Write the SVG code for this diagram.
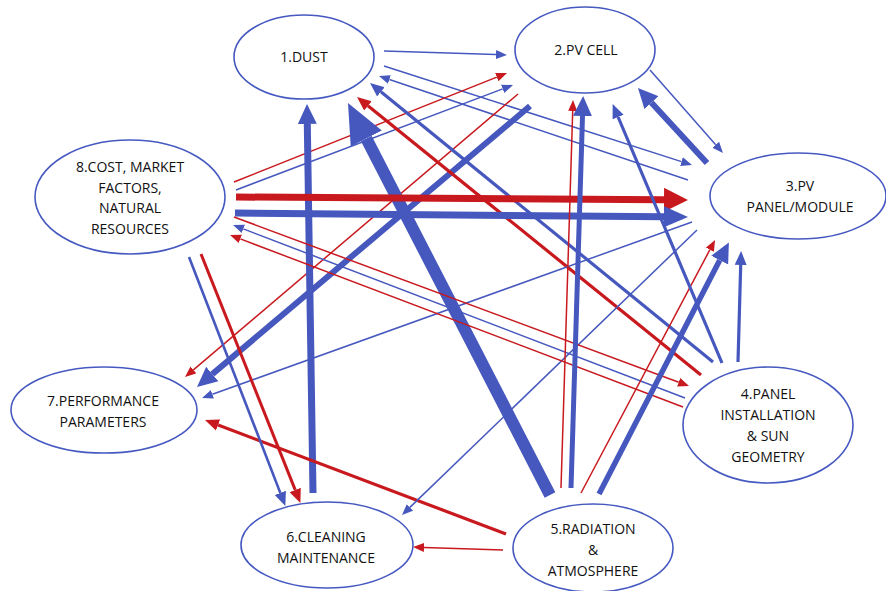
<svg xmlns="http://www.w3.org/2000/svg" width="886" height="591" viewBox="0 0 886 591">
<style>
.node ellipse{fill:#fff;stroke:#4659C0;stroke-width:1.6}
.node text{font-family:"Open Sans","Liberation Sans",sans-serif;font-size:14px;fill:#111;text-anchor:middle}
.b{stroke:#4658BE;fill:none}
.r{stroke:#C8191E;fill:none}
.t{stroke-width:1.5}
.m{stroke-width:3.2}
.k{stroke-width:6}
</style>
<defs>
<marker id="bs" markerUnits="userSpaceOnUse" viewBox="0 -5 11 10" markerWidth="11" markerHeight="10" refX="0" refY="0" orient="auto"><path d="M0,-4.5L11,0L0,4.5z" fill="#4658BE"/></marker>
<marker id="rs" markerUnits="userSpaceOnUse" viewBox="0 -5 11 10" markerWidth="11" markerHeight="10" refX="0" refY="0" orient="auto"><path d="M0,-4.5L11,0L0,4.5z" fill="#C8191E"/></marker>
<marker id="bm" markerUnits="userSpaceOnUse" viewBox="0 -7 14 14" markerWidth="14" markerHeight="14" refX="0" refY="0" orient="auto"><path d="M0,-6L14,0L0,6z" fill="#4658BE"/></marker>
<marker id="rm" markerUnits="userSpaceOnUse" viewBox="0 -7 14 14" markerWidth="14" markerHeight="14" refX="0" refY="0" orient="auto"><path d="M0,-6L14,0L0,6z" fill="#C8191E"/></marker>
<marker id="bk" markerUnits="userSpaceOnUse" viewBox="0 -10 20 20" markerWidth="20" markerHeight="20" refX="0" refY="0" orient="auto"><path d="M0,-9.5L20,0L0,9.5z" fill="#4658BE"/></marker>
<marker id="bL" markerUnits="userSpaceOnUse" viewBox="0 -12 24 24" markerWidth="24" markerHeight="24" refX="0" refY="0" orient="auto"><path d="M0,-10.5L24,0L0,10.5z" fill="#4658BE"/></marker>
<marker id="rL" markerUnits="userSpaceOnUse" viewBox="0 -12 24 24" markerWidth="24" markerHeight="24" refX="0" refY="0" orient="auto"><path d="M0,-12L24,0L0,12z" fill="#C8191E"/></marker>
<marker id="bX" markerUnits="userSpaceOnUse" viewBox="0 -18 40 36" markerWidth="40" markerHeight="36" refX="0" refY="0" orient="auto"><path d="M0,-17.5L40,0L0,17.5z" fill="#4658BE"/></marker>
</defs>
<g id="connectors">
<line class="b t" x1="384" y1="51" x2="496" y2="54.6" marker-end="url(#bs)"/>
<line class="b t" x1="384" y1="66" x2="681.5" y2="161.6" marker-end="url(#bs)"/>
<line class="b t" x1="688" y1="180" x2="389.4" y2="79.5" marker-end="url(#bs)"/>
<line class="r t" x1="234" y1="182" x2="496.8" y2="77.1" marker-end="url(#rs)"/>
<line class="b t" x1="236" y1="190" x2="502.7" y2="88.9" marker-end="url(#bs)"/>
<line class="r t" x1="518" y1="94" x2="193.4" y2="369.9" marker-end="url(#rs)"/>
<line class="b k" x1="530" y1="106" x2="212.3" y2="374.1" marker-end="url(#bk)"/>
<line class="r m" x1="701" y1="375" x2="367.9" y2="105.8" marker-end="url(#rm)"/>
<line class="b m" x1="713" y1="362" x2="380.9" y2="91.8" marker-end="url(#bm)"/>
<line class="b" stroke-width="12" x1="550" y1="495" x2="366.3" y2="138.6" marker-end="url(#bX)"/>
<line class="b" stroke-width="7" x1="313" y1="493" x2="307.3" y2="124" marker-end="url(#bk)"/>
<line class="r m" x1="506" y1="534" x2="218.1" y2="425" marker-end="url(#rm)"/>
<line class="r t" x1="503" y1="550" x2="424" y2="547.4" marker-end="url(#rs)"/>
<line class="b t" x1="697" y1="230" x2="409.9" y2="507.4" marker-end="url(#bs)"/>
<line class="b t" x1="692" y1="222" x2="212.4" y2="394.3" marker-end="url(#bs)"/>
<line class="b" stroke-width="2.6" x1="189" y1="257" x2="280.3" y2="492.9" marker-end="url(#bm)"/>
<line class="r" stroke-width="3" x1="201" y1="254" x2="295.2" y2="489.9" marker-end="url(#rm)"/>
<line class="r" stroke-width="7" x1="236" y1="197" x2="664" y2="199.8" marker-end="url(#rL)"/>
<line class="b" stroke-width="7" x1="235" y1="213" x2="664" y2="216.8" marker-end="url(#bL)"/>
<line class="r t" x1="234" y1="217" x2="678.7" y2="382.2" marker-end="url(#rs)"/>
<line class="b t" x1="685" y1="398" x2="243.3" y2="228.9" marker-end="url(#bs)"/>
<line class="r t" x1="683" y1="407" x2="240.3" y2="238.9" marker-end="url(#rs)"/>
<line class="r t" x1="561" y1="488" x2="572.7" y2="111" marker-end="url(#rs)"/>
<line class="b" stroke-width="5" x1="571" y1="488" x2="582.5" y2="116" marker-end="url(#bk)"/>
<line class="r t" x1="581" y1="493" x2="709.9" y2="249.7" marker-end="url(#rs)"/>
<line class="b" stroke-width="5.5" x1="599" y1="494" x2="719.7" y2="260.2" marker-end="url(#bk)"/>
<line class="b m" x1="738" y1="362" x2="740.7" y2="265" marker-end="url(#bm)"/>
<line class="b m" x1="722" y1="363" x2="618.1" y2="117" marker-end="url(#bm)"/>
<line class="b k" x1="707" y1="163" x2="651.5" y2="102.7" marker-end="url(#bk)"/>
<line class="b t" x1="650" y1="70" x2="715.7" y2="144.7" marker-end="url(#bs)"/>
</g>
<g id="n1" class="node"><ellipse cx="304" cy="57" rx="70" ry="42"/><text x="304" y="62">1.DUST</text></g>
<g id="n2" class="node"><ellipse cx="585" cy="50" rx="70" ry="43"/><text x="586" y="55">2.PV CELL</text></g>
<g id="n3" class="node"><ellipse cx="798" cy="196" rx="88" ry="43"/><text x="800" y="191">3.PV</text><text x="800" y="212">PANEL/MODULE</text></g>
<g id="n4" class="node"><ellipse cx="768" cy="425" rx="85" ry="58"/><text x="768" y="399">4.PANEL</text><text x="768" y="420">INSTALLATION</text><text x="768" y="441">&amp; SUN</text><text x="768" y="462">GEOMETRY</text></g>
<g id="n5" class="node"><ellipse cx="593" cy="548" rx="80" ry="44"/><text x="593" y="534">5.RADIATION</text><text x="593" y="555">&amp;</text><text x="593" y="576">ATMOSPHERE</text></g>
<g id="n6" class="node"><ellipse cx="327" cy="545" rx="86" ry="43"/><text x="326" y="542">6.CLEANING</text><text x="326" y="563">MAINTENANCE</text></g>
<g id="n7" class="node"><ellipse cx="104" cy="410" rx="93" ry="43"/><text x="103" y="406">7.PERFORMANCE</text><text x="103" y="427">PARAMETERS</text></g>
<g id="n8" class="node"><ellipse cx="130" cy="197" rx="95" ry="57"/><text x="130" y="172">8.COST, MARKET</text><text x="130" y="193">FACTORS,</text><text x="130" y="213">NATURAL</text><text x="130" y="234">RESOURCES</text></g>
</svg>
